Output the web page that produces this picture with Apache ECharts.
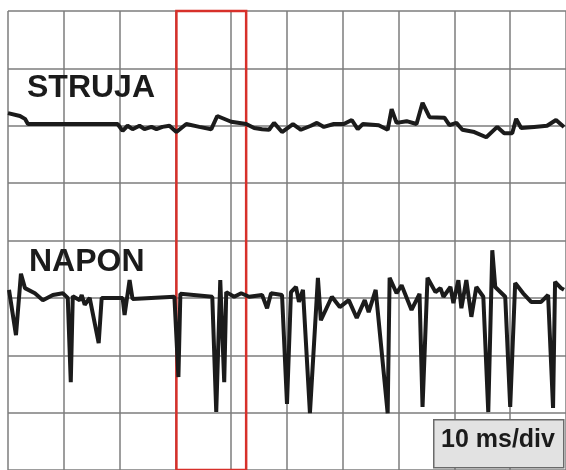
<!DOCTYPE html>
<html>
<head>
<meta charset="utf-8">
<script src="https://cdn.jsdelivr.net/npm/echarts@6/dist/echarts.min.js"></script>
<style>
html,body{margin:0;padding:0;background:#fff;}
#c{width:566px;height:470px;}
</style>
</head>
<body>
<div id="c"></div>
<script>
// time in ms (10 ms/div), amplitude in divisions from bottom of screen
const strujaT = [0,2.14,3.04,3.57,19.64,20.54,21.43,22.32,23.57,24.46,25.71,26.61,27.68,28.93,30.18,31.96,34.29,36.43,37.5,40.0,42.68,44.11,45.54,46.79,47.68,49.11,51.07,52.5,54.29,55.36,56.61,58.39,60.18,61.61,62.68,63.57,66.43,68.04,68.75,69.64,71.43,73.21,74.29,75.54,78.21,79.11,80.36,81.43,83.57,85.71,87.68,88.93,90.36,91.07,91.96,94.29,96.61,98.21,99.64];
const strujaV = [6.22,6.17,6.12,6.03,6.03,5.91,6.00,5.94,6.00,5.94,5.98,5.94,5.98,6.00,5.89,6.03,5.98,5.94,6.17,6.07,6.03,5.96,5.94,5.93,6.05,5.89,6.03,5.93,6.00,6.05,5.98,6.03,6.03,6.10,5.94,6.03,6.01,5.93,6.29,6.05,6.08,6.03,6.40,6.15,6.14,6.01,6.05,5.93,5.89,5.80,5.98,5.87,5.87,6.12,5.96,5.98,6.00,6.10,5.98];
const naponT = [0.18,1.43,2.32,3.04,4.82,6.25,8.04,9.82,10.71,11.25,11.61,12.86,13.21,13.75,14.64,16.25,16.79,20.54,20.89,21.79,22.32,29.82,30.54,30.89,36.61,37.32,38.04,38.75,39.11,40.54,41.79,43.21,45.54,46.43,47.14,49.11,50.0,50.71,51.61,52.14,52.86,54.11,55.54,56.07,58.04,59.46,61.07,62.5,63.93,64.64,65.89,68.04,68.39,69.64,70.54,72.32,73.75,74.29,75.18,76.61,77.5,78.04,79.29,79.82,80.71,81.25,82.14,83.04,83.93,85.18,86.07,86.79,87.32,89.11,90.0,90.89,92.32,93.75,95.54,96.79,97.68,98.04,99.11,99.64];
const naponV = [3.14,2.35,3.42,3.17,3.08,2.96,3.05,3.08,3.00,1.53,3.03,2.96,3.05,2.88,3.00,2.21,3.00,3.00,2.70,3.31,2.98,3.02,1.62,3.07,3.02,1.01,3.31,1.53,3.10,3.02,3.08,3.02,3.05,2.82,3.08,3.05,1.15,3.10,3.19,2.93,3.14,0.99,3.35,2.61,3.02,2.84,2.96,2.65,2.96,2.75,3.14,0.99,3.35,3.08,3.22,2.79,3.07,1.10,3.35,3.10,3.17,3.02,3.19,2.91,3.31,2.82,3.31,2.67,3.19,3.02,1.01,3.83,3.19,3.02,1.10,3.26,3.08,2.93,2.93,3.05,1.08,3.28,3.17,3.14];
const windowT = [30.18, 42.68];
const labels = ['STRUJA', 'NAPON'];
const scaleText = '10 ms/div';

const pair = (t, v) => t.map((x, i) => [x, v[i]]);
const chart = echarts.init(document.getElementById('c'), null, {renderer: 'canvas'});
const traceStyle = {color: '#1b1b1b', width: 4, join: 'bevel'};
chart.setOption({
  backgroundColor: '#ffffff',
  animation: false,
  grid: {left: 8, top: 11, width: 560, height: 459, containLabel: false},
  xAxis: {
    type: 'value', min: 0, max: 100, interval: 10,
    axisLine: {show: false}, axisTick: {show: false}, axisLabel: {show: false},
    splitLine: {show: true, lineStyle: {color: '#7c7c7c', width: 1.5}}
  },
  yAxis: {
    type: 'value', min: 0, max: 8, interval: 1,
    axisLine: {show: false}, axisTick: {show: false}, axisLabel: {show: false},
    splitLine: {show: true, lineStyle: {color: '#7c7c7c', width: 1.5}}
  },
  series: [
    {
      name: labels[0], type: 'line', data: pair(strujaT, strujaV),
      showSymbol: false, symbol: 'none', lineStyle: traceStyle, clip: false
    },
    {
      name: labels[1], type: 'line', data: pair(naponT, naponV),
      showSymbol: false, symbol: 'none', lineStyle: traceStyle, clip: false,
      markArea: {
        silent: true,
        itemStyle: {color: 'rgba(0,0,0,0)', borderColor: '#d7302a', borderWidth: 2.5},
        data: [[{xAxis: windowT[0], yAxis: 8}, {xAxis: windowT[1], yAxis: -0.3}]]
      }
    }
  ],
  graphic: [
    {type: 'text', left: 27, top: 72, z: 100, style: {text: labels[0], font: 'bold 32px "Liberation Sans", Arial, sans-serif', fill: '#1b1b1b'}},
    {type: 'text', left: 29, top: 246, z: 100, style: {text: labels[1], font: 'bold 32px "Liberation Sans", Arial, sans-serif', fill: '#1b1b1b'}},
    {type: 'rect', left: 433, top: 419, z: 100, shape: {width: 130, height: 48},
      style: {fill: '#e2e2e2', stroke: '#6a6a6a', lineWidth: 1.5}},
    {type: 'text', left: 441, top: 428, z: 101, style: {text: scaleText, font: 'bold 25px "Liberation Sans", Arial, sans-serif', fill: '#1b1b1b'}}
  ]
});
</script>
</body>
</html>
